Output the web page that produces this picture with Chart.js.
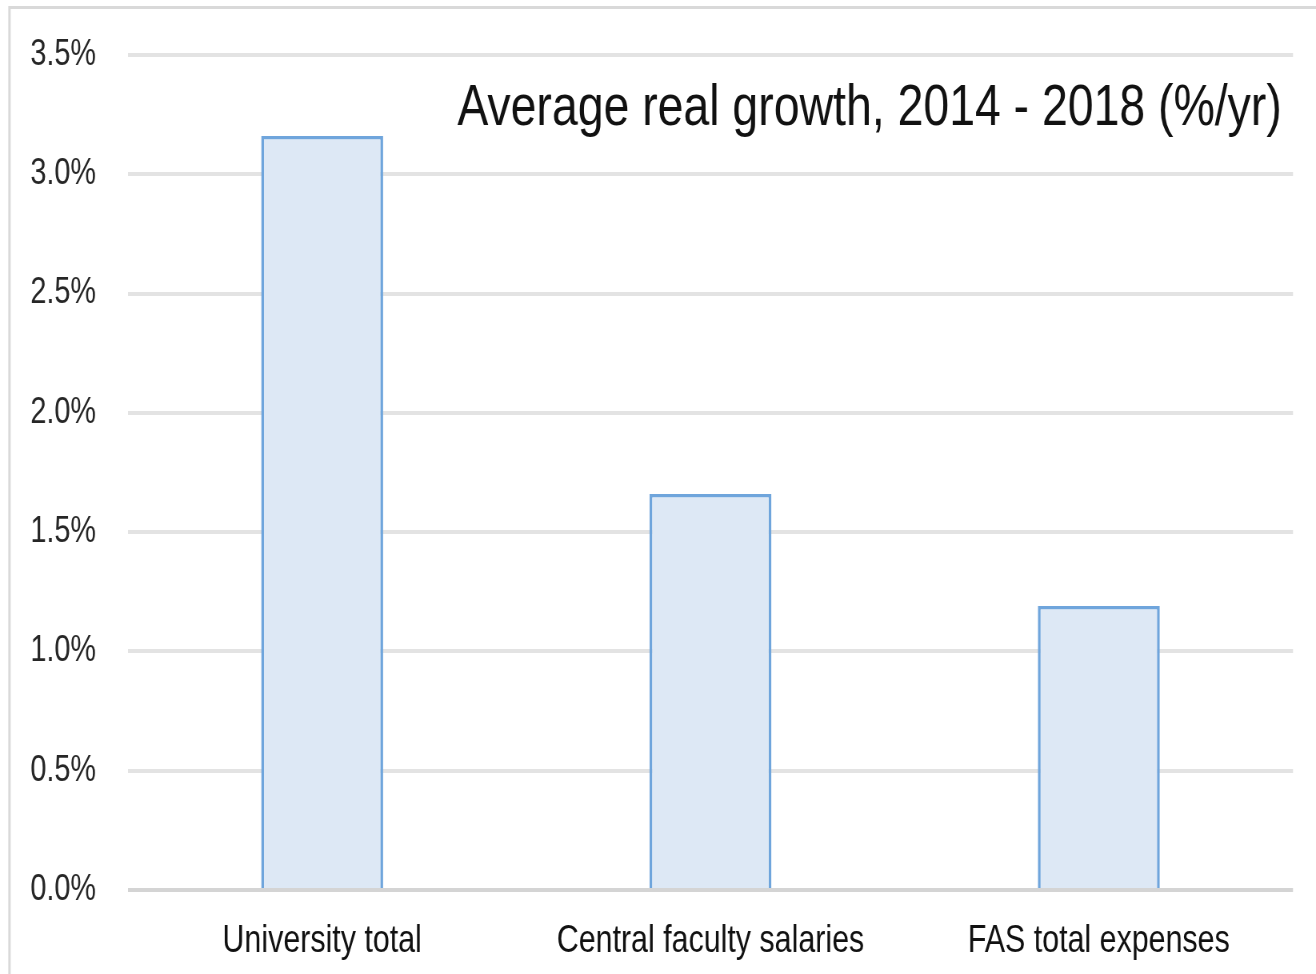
<!DOCTYPE html>
<html>
<head>
<meta charset="utf-8">
<script src="https://cdn.jsdelivr.net/npm/chart.js@4.4.0/dist/chart.umd.min.js"></script>
<style>
    html, body { margin: 0; padding: 0; background: #fff; overflow: hidden; }
    #wrap { width: 1316px; height: 974px; position: relative; overflow: hidden; }
    /* the source text is a condensed face, so draw wider and squeeze horizontally */
    #growthChart { transform: scaleX(0.8); transform-origin: 0 0; }
</style>
</head>
<body>
<div id="wrap"><canvas id="growthChart" width="1645" height="974"></canvas></div>
<script>
const categories = ['University total', 'Central faculty salaries', 'FAS total expenses'];
const growth = [3.16, 1.66, 1.19];
const yTicks = [0, 0.5, 1.0, 1.5, 2.0, 2.5, 3.0, 3.5];
const titleText = 'Average real growth, 2014 - 2018 (%/yr)';

const SQUEEZE = 0.8;
const FONT = '"Liberation Sans", Arial, sans-serif';

// Outer frame + title inside the plot
const decorations = {
    id: 'decorations',
    beforeDraw(chart) {
        const ctx = chart.ctx;
        ctx.save();
        ctx.fillStyle = '#fff';
        ctx.fillRect(0, 0, chart.width, chart.height);
        ctx.strokeStyle = '#d9d9d9';
        ctx.lineWidth = 3;
        ctx.strokeRect(9.5 / SQUEEZE, 7.5, 2000, 1100);
        ctx.restore();
    },
    afterDraw(chart) {
        const ctx = chart.ctx;
        const area = chart.chartArea;
        ctx.save();
        ctx.font = '58px ' + FONT;
        ctx.fillStyle = '#111';
        ctx.textAlign = 'right';
        ctx.textBaseline = 'alphabetic';
        ctx.fillText(titleText, area.right - 14, area.top + 70);
        ctx.restore();
    }
};

const ctx = document.getElementById('growthChart').getContext('2d');
const chart = new Chart(ctx, {
    type: 'bar',
    data: {
        labels: categories,
        datasets: [{
            data: growth,
            backgroundColor: '#dde8f5',
            borderColor: '#6fa5dc',
            borderWidth: 3.5,
            borderSkipped: 'bottom',
            categoryPercentage: 1.0,
            barPercentage: 0.314
        }]
    },
    options: {
        responsive: false,
        animation: false,
        layout: {
            padding: { top: 55, right: 23 / SQUEEZE, left: 0, bottom: 0 }
        },
        plugins: {
            legend: { display: false },
            tooltip: { enabled: false },
            title: { display: false }
        },
        scales: {
            x: {
                border: { display: false },
                grid: { display: false, drawTicks: false },
                ticks: {
                    color: '#111',
                    font: { family: FONT, size: 38 },
                    padding: 29,
                    maxRotation: 0,
                    autoSkip: false
                },
                afterFit(scale) { scale.height = 84; }
            },
            y: {
                min: 0,
                max: 3.5,
                border: { display: false },
                grid: {
                    color: (c) => c.tick && c.tick.value === 0 ? '#d4d4d4' : '#e3e3e3',
                    lineWidth: 4,
                    // invisible tick marks give the label gap without extra top padding
                    drawTicks: true,
                    tickLength: 32 / SQUEEZE,
                    tickColor: 'rgba(0,0,0,0)'
                },
                afterBuildTicks(scale) {
                    scale.ticks = yTicks.map(v => ({ value: v }));
                },
                ticks: {
                    color: '#262626',
                    font: { family: FONT, size: 36 },
                    padding: 0,
                    callback: (v) => Number(v).toFixed(1) + '%'
                },
                afterFit(scale) { scale.width = 128 / SQUEEZE; }
            }
        }
    },
    plugins: [decorations]
});
</script>
</body>
</html>
